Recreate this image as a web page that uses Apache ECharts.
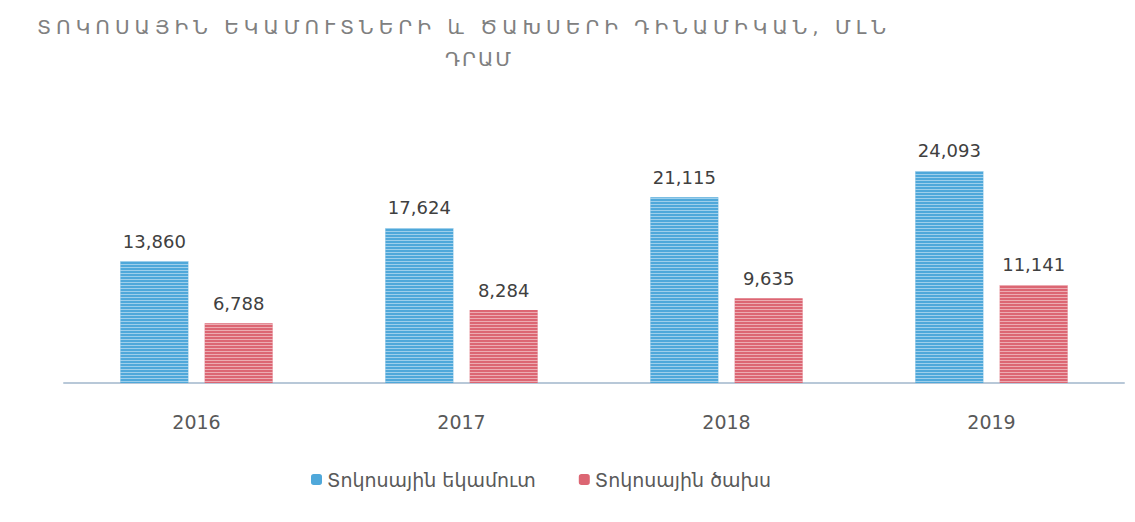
<!DOCTYPE html>
<html>
<head>
<meta charset="utf-8">
<script src="https://cdn.jsdelivr.net/npm/echarts@6/dist/echarts.min.js"></script>
<style>
  html, body { margin: 0; padding: 0; background: #fff; }
  #container { width: 1135px; height: 522px; }
</style>
</head>
<body>
<div id="container"></div>
<script>
var years = ["2016", "2017", "2018", "2019"];
var income = [13860, 17624, 21115, 24093];
var expense = [6788, 8284, 9635, 11141];
var seriesNames = ["Տոկոսային եկամուտ", "Տոկոսային ծախս"];
var titleLine1 = "ՏՈԿՈՍԱՅԻՆ ԵԿԱՄՈՒՏՆԵՐԻ և ԾԱԽՍԵՐԻ ԴԻՆԱՄԻԿԱՆ, ՄԼՆ";
var titleLine2 = "ԴՐԱՄ";

var dom = document.getElementById("container");
var myChart = echarts.init(dom, null, { renderer: "svg" });

var font = "'DejaVu Sans', 'Noto Sans', sans-serif";

function stripes(color) {
  return {
    color: color,
    symbol: "rect",
    symbolSize: 1,
    dashArrayX: [1, 0],
    dashArrayY: [1, 2],
  };
}

function valueLabel() {
  return {
    show: true,
    position: "top",
    distance: 11,
    fontSize: 18,
    color: "#404040",
    fontFamily: font,
    formatter: function (p) { return p.value.toLocaleString("en-US"); },
  };
}

var titleStyle = {
  fontFamily: font,
  fontSize: 20,
  fontWeight: "normal",
  color: "#808080",
};

var option = {
  backgroundColor: "#ffffff",
  textStyle: { fontFamily: font },
  title: [
    { text: titleLine1, left: 464, top: 17, textAlign: "center", padding: 0, textStyle: titleStyle },
    { text: titleLine2, left: 479, top: 49, textAlign: "center", padding: 0, textStyle: titleStyle },
  ],
  legend: {
    top: 465,
    left: 306,
    itemWidth: 11,
    itemHeight: 11,
    itemGap: 43,
    itemStyle: { decal: "none" },
    textStyle: { fontFamily: font, fontSize: 19, color: "#595959" },
    data: seriesNames,
  },
  grid: { left: 64, right: 11, top: 119, bottom: 139 },
  xAxis: {
    type: "category",
    data: years,
    axisLine: { lineStyle: { color: "#b8c8d8", width: 2 } },
    axisTick: { show: false },
    axisLabel: { fontSize: 19, color: "#595959", margin: 29, fontFamily: font },
  },
  yAxis: {
    type: "value",
    min: 0,
    max: 30000,
    show: false,
    splitLine: { show: false },
  },
  series: [
    {
      name: seriesNames[0],
      type: "bar",
      data: income,
      barWidth: 68,
      barGap: "24%",
      itemStyle: { color: "#4fa8da", decal: stripes("rgba(255,255,255,0.45)") },
      label: valueLabel(),
    },
    {
      name: seriesNames[1],
      type: "bar",
      data: expense,
      barWidth: 68,
      itemStyle: { color: "#dc6673", decal: stripes("rgba(255,255,255,0.45)") },
      label: valueLabel(),
    },
  ],
};

myChart.setOption(option);

// the title in the picture is widely letter-spaced
function spaceTitle() {
  dom.querySelectorAll("text").forEach(function (t) {
    var s = t.textContent;
    if (s === titleLine1) t.setAttribute("letter-spacing", "5px");
    if (s === titleLine2) t.setAttribute("letter-spacing", "2px");
  });
}
spaceTitle();
myChart.on("finished", spaceTitle);
window.addEventListener("resize", myChart.resize);
</script>
</body>
</html>
